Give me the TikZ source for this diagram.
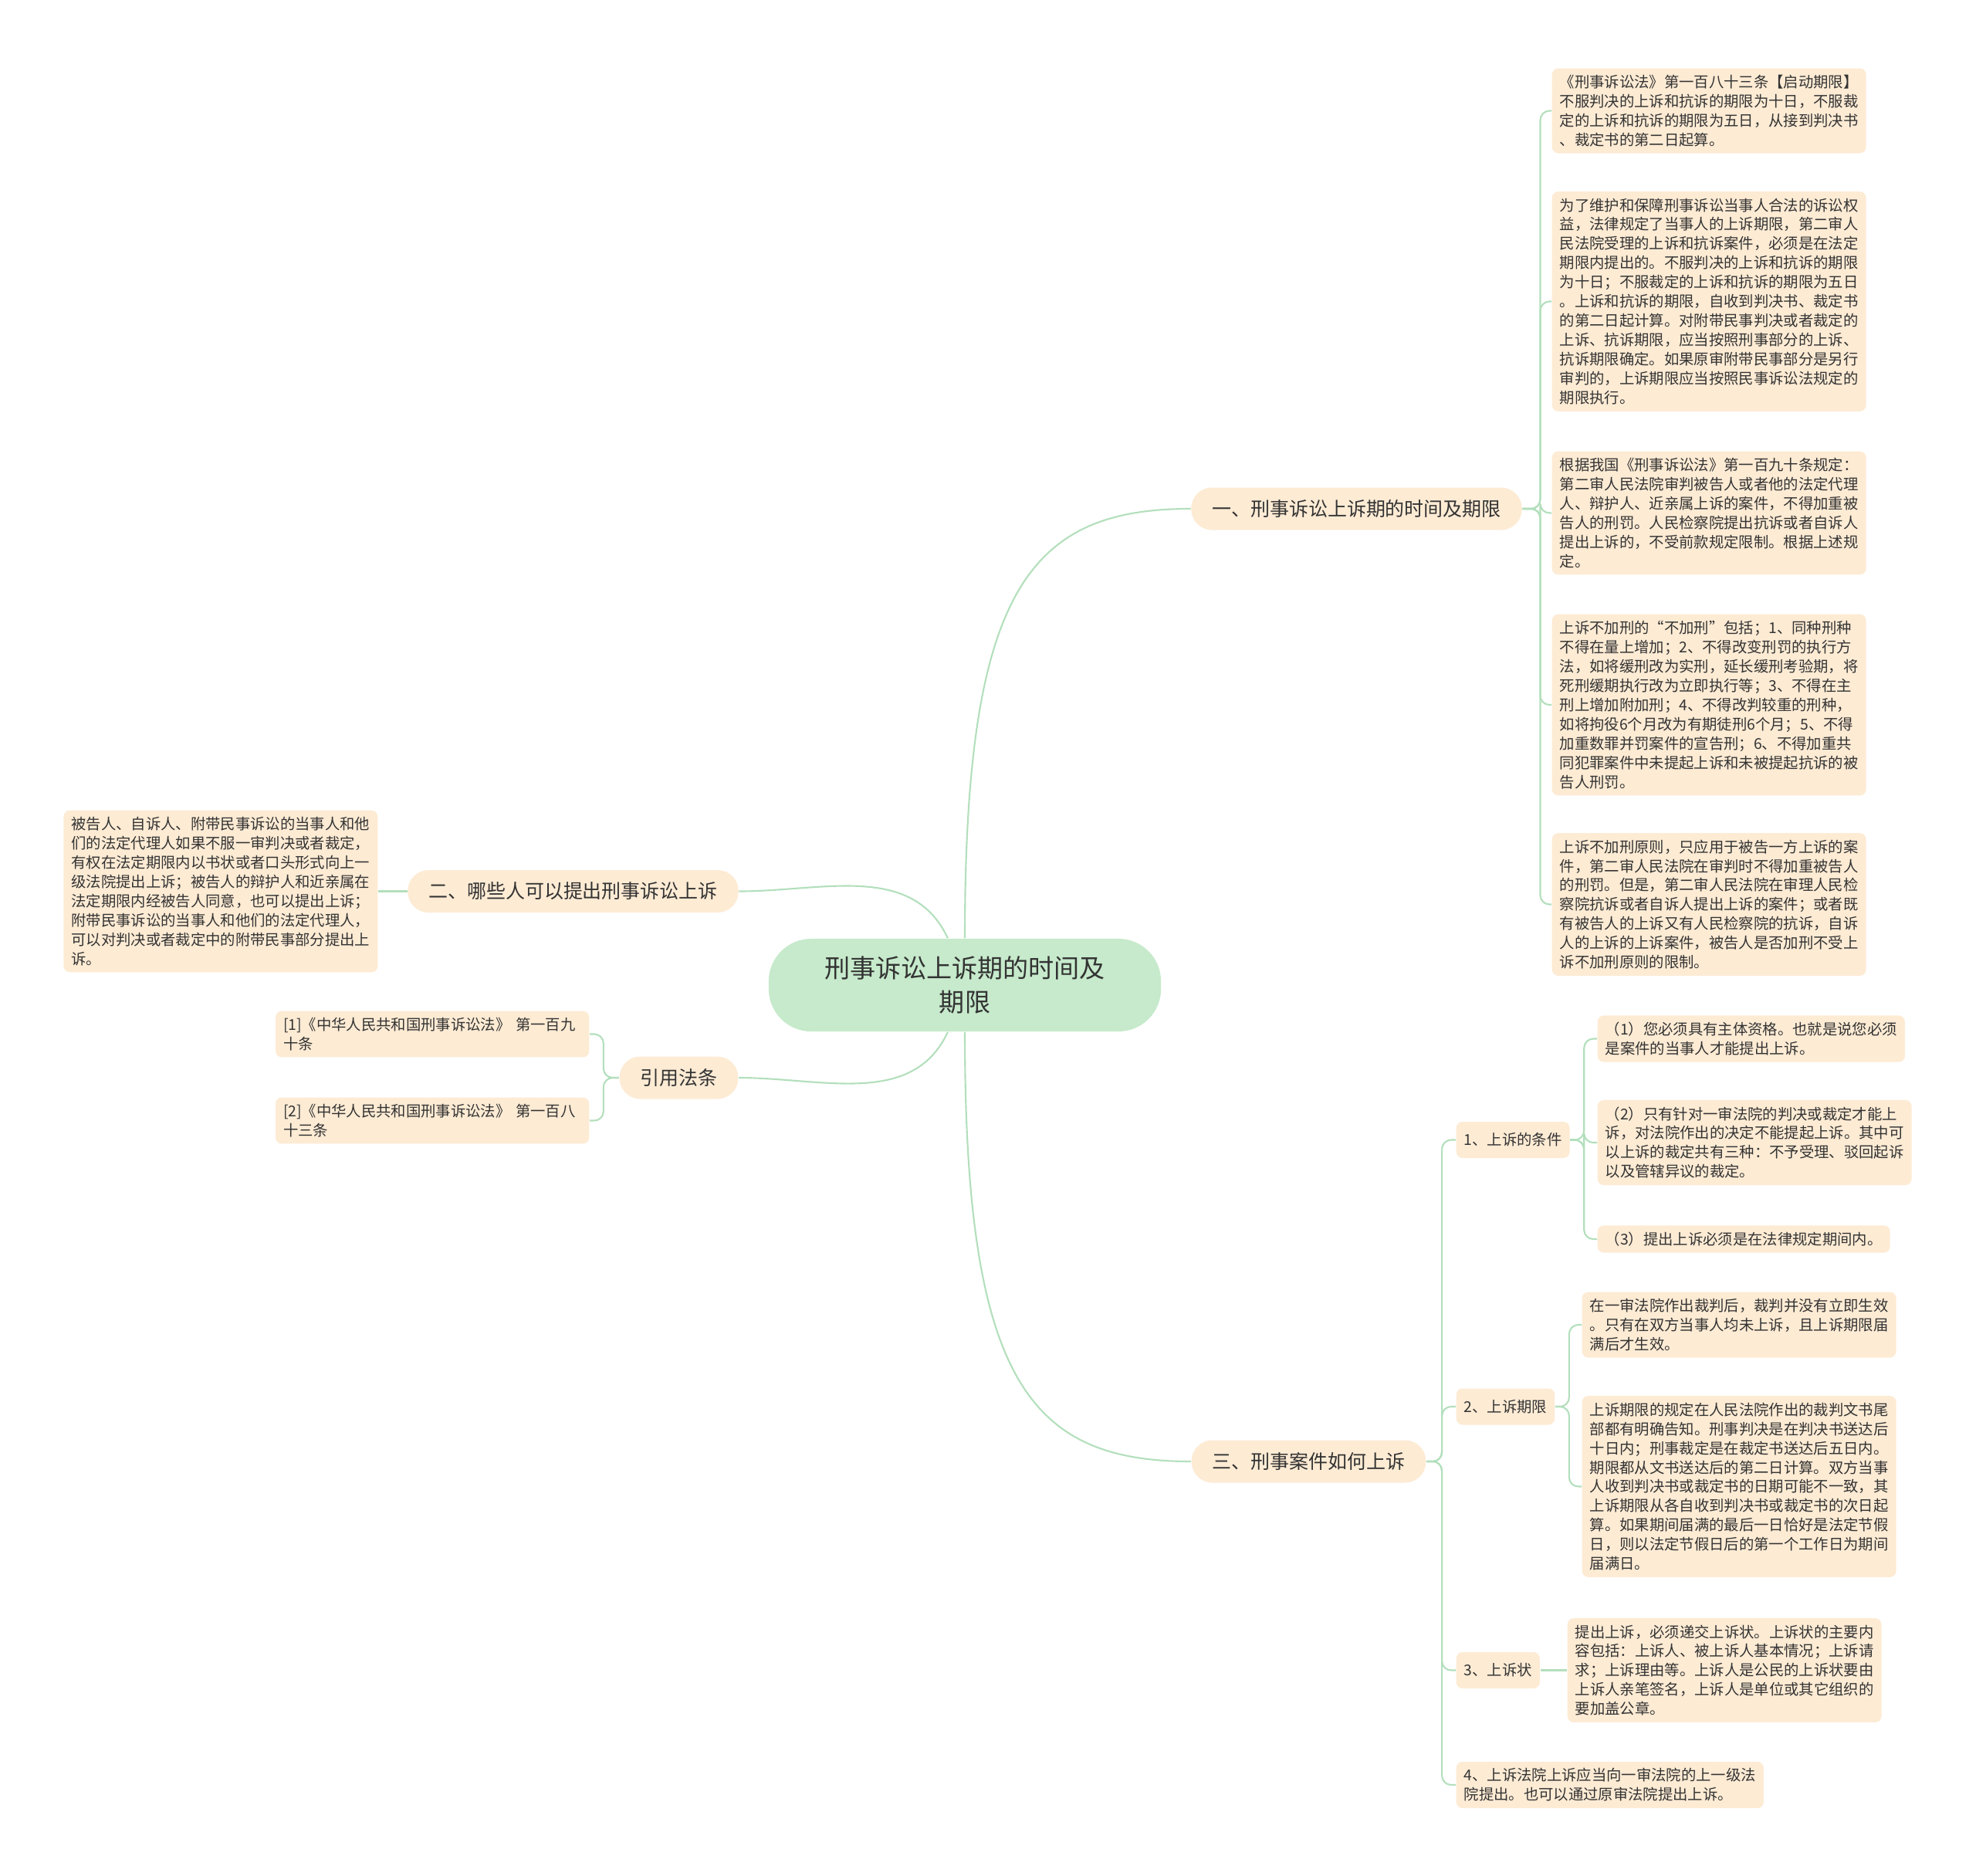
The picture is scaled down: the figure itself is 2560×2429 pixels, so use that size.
\documentclass[tikz,border=0pt]{standalone}
\usepackage{fontspec}
\setmainfont{Noto Sans CJK SC}
\definecolor{peach}{HTML}{FDEBD4}
\definecolor{mint}{HTML}{C6EACB}
\definecolor{linkgreen}{HTML}{B3DFBC}
\definecolor{ink}{HTML}{333333}
\newcommand\rootsize{\fontsize{9.4pt}{12.5pt}\selectfont}
\newcommand\topicsize{\fontsize{7.1pt}{9pt}\selectfont}
\newcommand\notesize{\fontsize{5.5pt}{7.1pt}\selectfont}
\tikzset{
  rootbox/.style={fill=mint,rounded corners=0.55cm,align=center,font=\rootsize,text=ink,minimum width=5.08cm,minimum height=1.2cm},
  topic/.style={fill=peach,rounded corners=0.27cm,font=\topicsize,text=ink,inner xsep=0.27cm,minimum height=0.55cm},
  note/.style={fill=peach,rounded corners=0.08cm,align=left,font=\notesize,text=ink,inner xsep=0.1cm,inner ysep=0.085cm,anchor=west},
  itembox/.style={note,minimum height=0.47cm},
  citebox/.style={note,anchor=east,text width=3.86cm},
  link/.style={draw=linkgreen,line width=0.6pt},
  elbow/.style={link,rounded corners=0.12cm}
}
\begin{document}
\begin{tikzpicture}[x=0.01cm,y=0.01cm]
  \useasboundingbox (0,0) rectangle (2560,-2429);
  \node[rootbox] (root) at (1250,-1276) {刑事诉讼上诉期的时间及\\期限};
  \node[topic] (t1) at (1757.5,-659) {一、刑事诉讼上诉期的时间及期限};
  \node[topic] (t2) at (742.5,-1154.5) {二、哪些人可以提出刑事诉讼上诉};
  \node[topic] (t4) at (879.5,-1396) {引用法条};
  \node[topic] (t3) at (1695.5,-1893) {三、刑事案件如何上诉};
  % first branch
  \node[note] (L1) at (2010,-143.5) {《刑事诉讼法》第一百八十三条【启动期限】\\不服判决的上诉和抗诉的期限为十日，不服裁\\定的上诉和抗诉的期限为五日，从接到判决书\\、裁定书的第二日起算。};
  \node[note] (L2) at (2010,-390.5) {为了维护和保障刑事诉讼当事人合法的诉讼权\\益，法律规定了当事人的上诉期限，第二审人\\民法院受理的上诉和抗诉案件，必须是在法定\\期限内提出的。不服判决的上诉和抗诉的期限\\为十日；不服裁定的上诉和抗诉的期限为五日\\。上诉和抗诉的期限，自收到判决书、裁定书\\的第二日起计算。对附带民事判决或者裁定的\\上诉、抗诉期限，应当按照刑事部分的上诉、\\抗诉期限确定。如果原审附带民事部分是另行\\审判的，上诉期限应当按照民事诉讼法规定的\\期限执行。};
  \node[note] (L3) at (2010,-664.5) {根据我国《刑事诉讼法》第一百九十条规定：\\第二审人民法院审判被告人或者他的法定代理\\人、辩护人、近亲属上诉的案件，不得加重被\\告人的刑罚。人民检察院提出抗诉或者自诉人\\提出上诉的，不受前款规定限制。根据上述规\\定。};
  \node[note] (L4) at (2010,-913) {上诉不加刑的“不加刑”包括；1、同种刑种\\不得在量上增加；2、不得改变刑罚的执行方\\法，如将缓刑改为实刑，延长缓刑考验期，将\\死刑缓期执行改为立即执行等；3、不得在主\\刑上增加附加刑；4、不得改判较重的刑种，\\如将拘役6个月改为有期徒刑6个月；5、不得\\加重数罪并罚案件的宣告刑；6、不得加重共\\同犯罪案件中未提起上诉和未被提起抗诉的被\\告人刑罚。};
  \node[note] (L5) at (2010,-1171.5) {上诉不加刑原则，只应用于被告一方上诉的案\\件，第二审人民法院在审判时不得加重被告人\\的刑罚。但是，第二审人民法院在审理人民检\\察院抗诉或者自诉人提出上诉的案件；或者既\\有被告人的上诉又有人民检察院的抗诉，自诉\\人的上诉的上诉案件，被告人是否加刑不受上\\诉不加刑原则的限制。};
  % left side
  \node[note,anchor=east] (lft) at (490,-1154.5) {被告人、自诉人、附带民事诉讼的当事人和他\\们的法定代理人如果不服一审判决或者裁定，\\有权在法定期限内以书状或者口头形式向上一\\级法院提出上诉；被告人的辩护人和近亲属在\\法定期限内经被告人同意，也可以提出上诉；\\附带民事诉讼的当事人和他们的法定代理人，\\可以对判决或者裁定中的附带民事部分提出上\\诉。};
  \node[citebox] (cit1) at (764,-1339.5) {[1]《中华人民共和国刑事诉讼法》~第一百九\\十条};
  \node[citebox] (cit2) at (764,-1451.5) {[2]《中华人民共和国刑事诉讼法》~第一百八\\十三条};
  % third branch
  \node[itembox] (c1) at (1886,-1476.5) {1、上诉的条件};
  \node[note] (c1a) at (2069,-1345.5) {（1）您必须具有主体资格。也就是说您必须\\是案件的当事人才能提出上诉。};
  \node[note] (c1b) at (2069,-1480) {（2）只有针对一审法院的判决或裁定才能上\\诉，对法院作出的决定不能提起上诉。其中可\\以上诉的裁定共有三种：不予受理、驳回起诉\\以及管辖异议的裁定。};
  \node[note] (c1c) at (2069,-1605) {（3）提出上诉必须是在法律规定期间内。};
  \node[itembox] (c2) at (1886,-1822) {2、上诉期限};
  \node[note] (c2a) at (2049,-1716) {在一审法院作出裁判后，裁判并没有立即生效\\。只有在双方当事人均未上诉，且上诉期限届\\满后才生效。};
  \node[note] (c2b) at (2049,-1925.5) {上诉期限的规定在人民法院作出的裁判文书尾\\部都有明确告知。刑事判决是在判决书送达后\\十日内；刑事裁定是在裁定书送达后五日内。\\期限都从文书送达后的第二日计算。双方当事\\人收到判决书或裁定书的日期可能不一致，其\\上诉期限从各自收到判决书或裁定书的次日起\\算。如果期间届满的最后一日恰好是法定节假\\日，则以法定节假日后的第一个工作日为期间\\届满日。};
  \node[itembox] (c3) at (1886,-2163.5) {3、上诉状};
  \node[note] (c3a) at (2030,-2163.5) {提出上诉，必须递交上诉状。上诉状的主要内\\容包括：上诉人、被上诉人基本情况；上诉请\\求；上诉理由等。上诉人是公民的上诉状要由\\上诉人亲笔签名，上诉人是单位或其它组织的\\要加盖公章。};
  \node[note] (c4) at (1886,-2312) {4、上诉法院上诉应当向一审法院的上一级法\\院提出。也可以通过原审法院提出上诉。};
  % connectors
  \draw[link] (root.north) .. controls +(0,450) and +(-210,0) .. (t1.west);
  \draw[link] (root.south) .. controls +(0,-450) and +(-210,0) .. (t3.west);
  \draw[link] (t2.east) to[out=0,in=115] (root.110);
  \draw[link] (t4.east) to[out=0,in=245] (root.250);
  \foreach \n in {L1,L2,L3,L4,L5} \draw[elbow] (t1.east) -- ++(23,0) |- (\n.west);
  \draw[link] (t2.west) -- (lft.east);
  \foreach \n in {cit1,cit2} \draw[elbow] (t4.west) -- ++(-20,0) |- (\n.east);
  \foreach \n in {c1,c2,c3,c4} \draw[elbow] (t3.east) -- ++(20,0) |- (\n.west);
  \foreach \n in {c1a,c1b,c1c} \draw[elbow] (c1.east) -- ++(18,0) |- (\n.west);
  \foreach \n in {c2a,c2b} \draw[elbow] (c2.east) -- ++(18,0) |- (\n.west);
  \draw[link] (c3.east) -- (c3a.west);
\end{tikzpicture}
\end{document}
